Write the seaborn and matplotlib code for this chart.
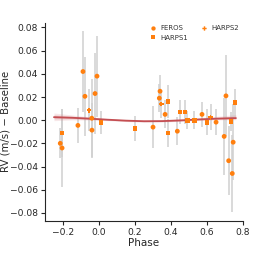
import numpy as np
import pandas as pd
import matplotlib
matplotlib.use("Agg")
import matplotlib.pyplot as plt
import seaborn as sns

# ---- data ----
phase = [-0.205, -0.215, -0.205, -0.117, -0.089, -0.078, -0.055, -0.040, -0.039,
         -0.022, -0.011, 0.011, 0.200, 0.300, 0.339, 0.335, 0.345, 0.383, 0.367,
         0.383, 0.435, 0.450, 0.478, 0.490, 0.530, 0.572, 0.600, 0.620, 0.650,
         0.705, 0.695, 0.733, 0.755, 0.745, 0.720, 0.740]
rv = [-0.011, -0.020, -0.024, -0.0045, 0.042, 0.0206, 0.0086, 0.0017, -0.0086,
      0.023, 0.038, -0.0017, -0.007, -0.006, 0.025, 0.019, 0.014, 0.016, 0.005,
      -0.011, -0.0095, 0.007, 0.007, 0.0, 0.0, 0.005, -0.0017, 0.0026, -0.0017,
      0.021, -0.014, -0.001, 0.015, -0.019, -0.035, -0.046]
rv_err = [0.021, 0.013, 0.034, 0.015, 0.035, 0.034, 0.018, 0.034, 0.023,
          0.035, 0.035, 0.010, 0.011, 0.018, 0.014, 0.012, 0.012, 0.014, 0.012,
          0.012, 0.012, 0.010, 0.010, 0.008, 0.008, 0.011, 0.011, 0.011, 0.011,
          0.035, 0.033, 0.008, 0.012, 0.033, 0.030, 0.033]
instrument = ["HARPS1", "FEROS", "FEROS", "FEROS", "FEROS", "FEROS", "HARPS2", "FEROS", "FEROS",
              "FEROS", "FEROS", "HARPS1", "HARPS1", "FEROS", "FEROS", "FEROS", "HARPS2", "HARPS1", "FEROS",
              "HARPS1", "FEROS", "HARPS1", "HARPS1", "HARPS1", "HARPS1", "FEROS", "HARPS1", "HARPS2", "FEROS",
              "FEROS", "FEROS", "HARPS1", "HARPS1", "FEROS", "FEROS", "FEROS"]

model_phase = [-0.25, -0.15, -0.05, 0.05, 0.15, 0.25, 0.35, 0.45, 0.55, 0.65, 0.76]
model_rv = [0.0026, 0.0021, 0.0013, 0.0004, -0.0004, -0.0009, -0.0008, -0.0002, 0.0006, 0.0013, 0.0018]
model_lo = [-0.0004, 0.0002, 0.0001, -0.0004, -0.0012, -0.0017, -0.0016, -0.0010, -0.0003, 0.0002, 0.0004]
model_hi = [0.0062, 0.0045, 0.0028, 0.0013, 0.0004, -0.0001, 0.0002, 0.0010, 0.0020, 0.0033, 0.0048]

df = pd.DataFrame({"phase": phase, "rv": rv, "err": rv_err, "inst": instrument})
mdf = pd.DataFrame({"phase": model_phase, "rv": model_rv, "lo": model_lo, "hi": model_hi})

sns.set_style("ticks")
plt.rcParams["font.family"] = ["DejaVu Sans"]

fig = plt.figure(figsize=(2.54, 2.54), dpi=100)
ax = fig.add_axes([0.177, 0.130, 0.780, 0.780])

# error bars
ax.errorbar(df["phase"], df["rv"], yerr=df["err"], fmt="none",
            ecolor="#d0d0d0", elinewidth=1.1, zorder=1)

# model band and line
for frac, a in [(1.0, 0.2), (0.6, 0.22), (0.3, 0.25)]:
    lo = mdf["rv"] - frac * (mdf["rv"] - mdf["lo"])
    hi = mdf["rv"] + frac * (mdf["hi"] - mdf["rv"])
    ax.fill_between(mdf["phase"], lo, hi, color="#d98a8f", alpha=a, lw=0, zorder=2)
sns.lineplot(data=mdf, x="phase", y="rv", color="#c44e52", lw=1.3, ax=ax, zorder=3)

# points
markers = {"FEROS": "o", "HARPS1": "s", "HARPS2": "P"}
sns.scatterplot(data=df, x="phase", y="rv", style="inst", markers=markers,
                style_order=["FEROS", "HARPS1", "HARPS2"],
                color="#ff7f0e", edgecolor="none", s=12, ax=ax, zorder=4)

ax.set_xlim(-0.3, 0.8)
ax.set_ylim(-0.087, 0.084)
ax.set_xticks([-0.2, 0.0, 0.2, 0.4, 0.6, 0.8])
ax.set_yticks([-0.08, -0.06, -0.04, -0.02, 0.0, 0.02, 0.04, 0.06, 0.08])
ax.tick_params(labelsize=6.6, length=3, width=0.8, pad=2)
ax.set_xlabel("Phase", fontsize=7.5, labelpad=1)
ax.set_ylabel("RV (m/s) − Baseline", fontsize=7.3)
ax.yaxis.set_label_coords(-0.175, 0.5)
sns.despine(ax=ax)

handles, labels = ax.get_legend_handles_labels()
ax.legend(handles, labels, loc="upper right", ncol=2, frameon=False, fontsize=5,
          handletextpad=0.5, columnspacing=1.6, labelspacing=0.5, markerscale=0.9,
          handlelength=1.2, bbox_to_anchor=(1.0, 1.01), borderaxespad=0.2,
          labelcolor="#333333")

fig.savefig("out.png", dpi=100)
